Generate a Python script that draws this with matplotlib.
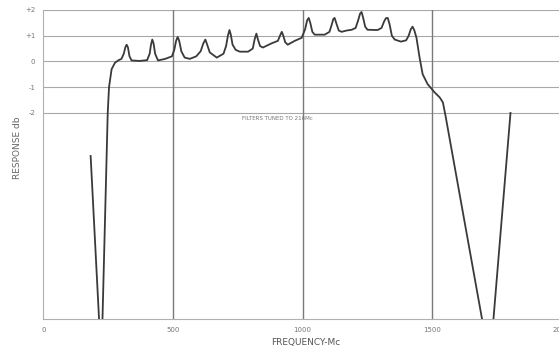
import matplotlib
matplotlib.use('Agg')
import numpy as np
import matplotlib.pyplot as plt

# response curve (Mc, db)
freq = [182, 219.6, 225, 228, 248, 253, 263, 276, 290, 301,
        310, 316, 321, 326, 332, 340, 370, 400, 410, 415,
        420, 425, 431, 442, 470, 496, 505, 512, 518, 524,
        532, 545, 565, 590, 607, 617, 625, 632, 642, 669,
        695, 705, 712, 718, 723, 730, 742, 758, 790, 808,
        815, 822, 828, 836, 847, 880, 905, 913, 920, 926,
        933, 943, 970, 997, 1010, 1018, 1024, 1030, 1038, 1047,
        1086, 1104, 1112, 1119, 1124, 1130, 1140, 1151, 1170, 1190,
        1205, 1215, 1222, 1228, 1234, 1242, 1251, 1290, 1305, 1315,
        1322, 1329, 1336, 1345, 1356, 1380, 1400, 1410, 1418, 1425,
        1432, 1440, 1452, 1464, 1483, 1510, 1530, 1542, 1552, 1711,
        1729, 1803]
resp = [-3.67, -11, -11, -9.9, -2.0, -1.0, -0.3, -0.05, 0.05, 0.1,
        0.3, 0.55, 0.65, 0.55, 0.2, 0.04, 0.02, 0.05, 0.3, 0.65,
        0.85, 0.7, 0.3, 0.04, 0.1, 0.2, 0.45, 0.8, 0.95, 0.8,
        0.4, 0.15, 0.1, 0.2, 0.4, 0.7, 0.85, 0.65, 0.35, 0.15,
        0.3, 0.6, 1.0, 1.22, 1.05, 0.65, 0.45, 0.38, 0.38, 0.5,
        0.85, 1.08, 0.85, 0.6, 0.54, 0.7, 0.8, 1.0, 1.15, 1.0,
        0.75, 0.65, 0.8, 0.92, 1.25, 1.6, 1.69, 1.5, 1.15, 1.04,
        1.04, 1.15, 1.4, 1.65, 1.69, 1.5, 1.2, 1.15, 1.2, 1.23,
        1.3, 1.6, 1.85, 1.92, 1.7, 1.35, 1.23, 1.22, 1.3, 1.55,
        1.68, 1.69, 1.45, 1.0, 0.85, 0.77, 0.82, 1.0, 1.25, 1.35,
        1.2, 0.92, 0.15, -0.5, -0.88, -1.2, -1.4, -1.59, -2.1, -11,
        -11, -2.0]

xticks = [0, 500, 1000, 1500, 2000]
xtick_labels = ['0', '500', '1000', '1500', '2000']
yticks = [2, 1, 0, -1, -2]
ytick_labels = ['+2', '+1', '0', '-1', '-2']

fig = plt.figure(figsize=(5.59, 3.5), dpi=100)
ax = fig.add_axes([0.0778, 0.0886, 0.9267, 0.883])

grey = '#8a8a8a'
for y in yticks:
    ax.axhline(y, color='#a8a8a8', lw=0.8, zorder=1)
for x in xticks[1:4]:
    ax.axvline(x, color='#7a7a7a', lw=1.0, zorder=1)

ax.plot(freq, resp, color='#3a3a3a', lw=1.3, zorder=3, clip_on=True)

ax.set_xlim(0, 2000)
ax.set_ylim(-10, 2)
ax.set_xticks(xticks)
ax.set_xticklabels(xtick_labels)
ax.set_yticks(yticks)
ax.set_yticklabels(ytick_labels)
ax.tick_params(length=0, labelsize=5, colors='#777777', pad=6)

for s in ['top', 'right']:
    ax.spines[s].set_visible(False)
for s in ['left', 'bottom']:
    ax.spines[s].set_color('#b0b0b0')
    ax.spines[s].set_linewidth(0.8)

ax.text(902, -2.23, 'FILTERS TUNED TO 216Mc', fontsize=4, color='#777777',
        ha='center', va='center')

fig.text(18 / 559, 1 - 148 / 350, 'RESPONSE db', rotation=90, fontsize=6.5,
         color='#666666', ha='center', va='center')
fig.text(306 / 559, 1 - 343 / 350, 'FREQUENCY-Mc', fontsize=6.5,
         color='#555555', ha='center', va='center')

plt.savefig('out.png', dpi=100)
